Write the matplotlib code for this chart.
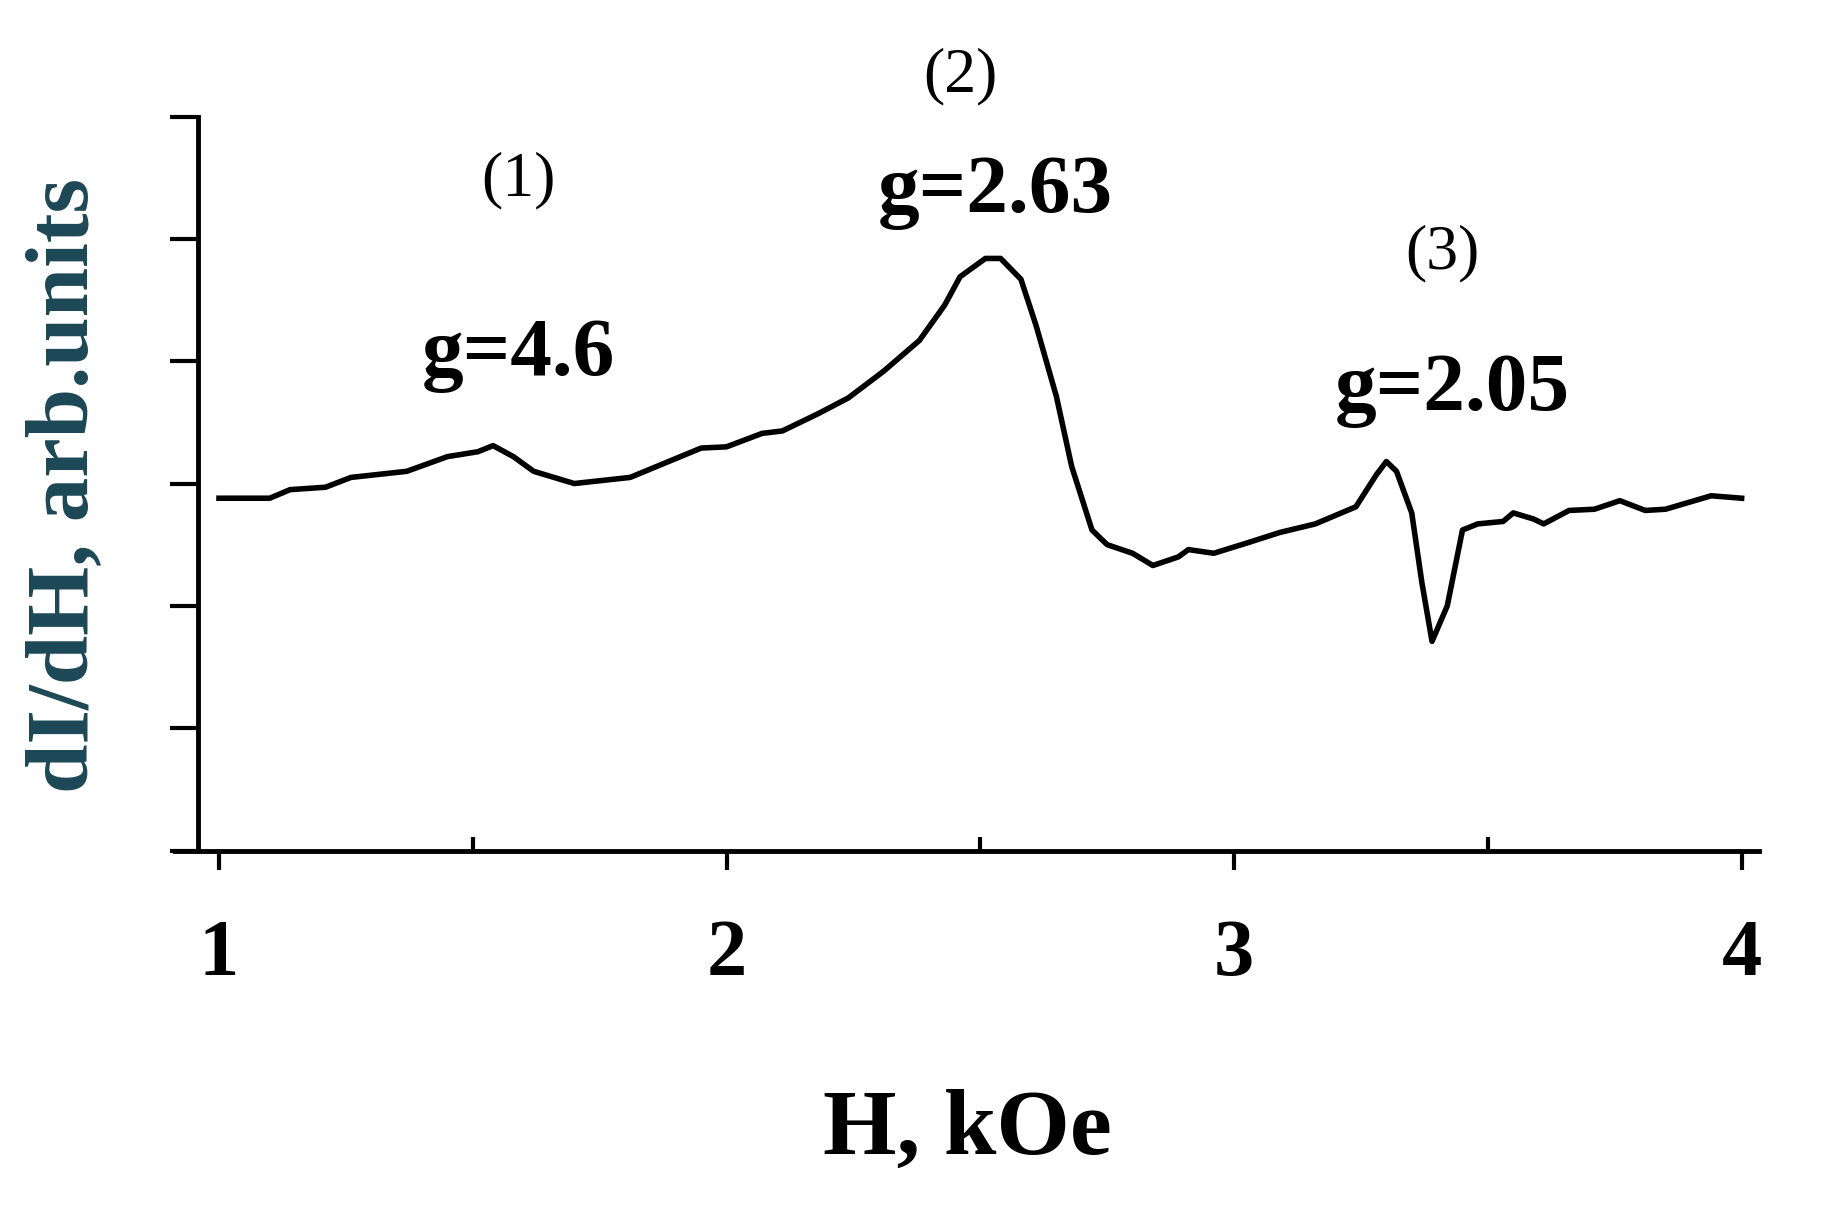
import matplotlib
matplotlib.use('Agg')
from matplotlib import pyplot as plt

# field, kOe and signal, arb. units
field = [1.00, 1.10, 1.14, 1.21, 1.26, 1.37, 1.45, 1.51, 1.54, 1.58, 1.62, 1.70, 1.81,
         1.95, 2.00, 2.07, 2.11, 2.18, 2.24, 2.31, 2.38, 2.43, 2.46, 2.51, 2.54, 2.58,
         2.61, 2.65, 2.68, 2.72, 2.75, 2.80, 2.84, 2.89, 2.91, 2.96, 3.03, 3.09, 3.16,
         3.24, 3.28, 3.30, 3.32, 3.35, 3.37, 3.39, 3.42, 3.45, 3.48, 3.53, 3.55, 3.59,
         3.61, 3.66, 3.71, 3.76, 3.81, 3.85, 3.94, 3.97, 4.00]
signal = [2.88, 2.88, 2.95, 2.97, 3.05, 3.10, 3.22, 3.26, 3.31, 3.22, 3.10, 3.00, 3.05,
          3.29, 3.30, 3.41, 3.43, 3.57, 3.70, 3.92, 4.17, 4.46, 4.69, 4.84, 4.84, 4.67,
          4.29, 3.71, 3.14, 2.62, 2.50, 2.43, 2.33, 2.40, 2.46, 2.43, 2.52, 2.60, 2.67,
          2.81, 3.07, 3.18, 3.10, 2.76, 2.19, 1.71, 2.00, 2.62, 2.67, 2.69, 2.76, 2.71,
          2.67, 2.78, 2.79, 2.86, 2.78, 2.79, 2.90, 2.89, 2.88]

peak_labels = ['(1)', '(2)', '(3)']
peak_label_x = [1.59, 2.46, 3.41]
peak_label_y = [5.48, 6.33, 4.88]
g_labels = ['g=4.6', 'g=2.63', 'g=2.05']
g_x = [1.59, 2.53, 3.43]
g_y = [4.05, 5.38, 3.76]

serif = ['Liberation Serif', 'DejaVu Serif']

fig = plt.figure(figsize=(18.27, 12.14), dpi=100)
ax = fig.add_axes([0.0957, 0.2994, 0.8673, 0.6046])
ax.plot(field, signal, color='black', lw=4, solid_joinstyle='round')

ax.set_xlim(0.913, 4.035)
ax.set_ylim(0, 6)
for s in ['top', 'right']:
    ax.spines[s].set_visible(False)
ax.spines['left'].set_position(('data', 0.959))
ax.spines['left'].set_linewidth(3.5)
ax.spines['bottom'].set_linewidth(3.5)

ax.set_xticks([1, 2, 3, 4])
ax.set_xticklabels(['1', '2', '3', '4'], fontsize=58, fontweight='bold', family=serif)
ax.set_xticks([1.5, 2.5, 3.5], minor=True)
ax.tick_params(axis='x', which='major', direction='out', length=14, width=3, pad=35)
ax.tick_params(axis='x', which='minor', direction='in', length=10, width=3)
ax.set_yticks([0, 1, 2, 3, 4, 5, 6])
ax.set_yticklabels([])
ax.tick_params(axis='y', direction='out', length=20, width=3)

ax.set_xlabel('H, kOe', fontsize=68, fontweight='bold', family=serif, labelpad=70)
fig.text(0.036, 0.6, 'dI/dH, arb.units', rotation=90, ha='center', va='center',
         fontsize=64, fontweight='bold', family=serif, color='#1c4756')

for lab, x, y in zip(peak_labels, peak_label_x, peak_label_y):
    ax.text(x, y, lab, ha='center', va='center', fontsize=46, family=serif, clip_on=False)
for lab, x, y in zip(g_labels, g_x, g_y):
    ax.text(x, y, lab, ha='center', va='center', fontsize=60, fontweight='bold',
            family=serif, clip_on=False)

fig.savefig('out.png', dpi=100)
